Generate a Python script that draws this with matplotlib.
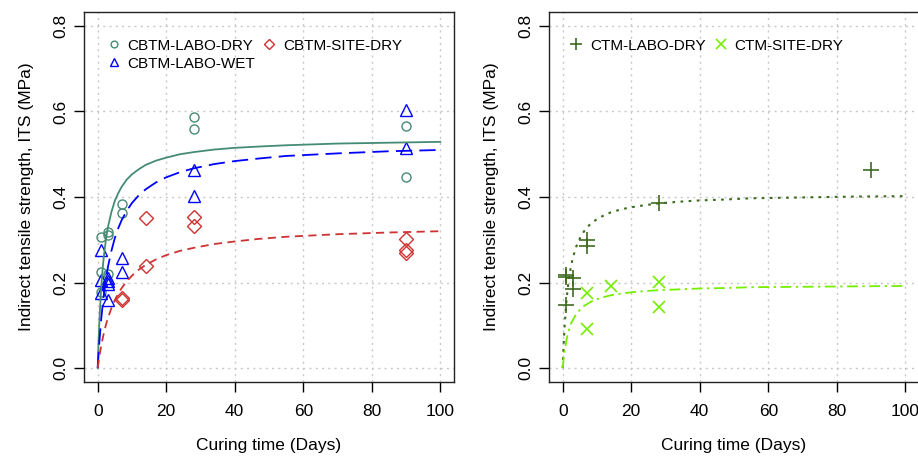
import matplotlib
matplotlib.use("Agg")
import matplotlib.pyplot as plt

plt.rcParams['font.family'] = ['Liberation Sans', 'DejaVu Sans']

# measured points (days, ITS in MPa)
cbtm_lab_dry_days = [1, 1, 1, 3, 3, 3, 7, 7, 28, 28, 90, 90]
cbtm_lab_dry_its = [0.306, 0.224, 0.178, 0.319, 0.310, 0.219, 0.384, 0.362, 0.587, 0.558, 0.566, 0.447]

cbtm_lab_wet_days = [1, 1, 1, 3, 3, 3, 3, 7, 7, 28, 28, 90, 90]
cbtm_lab_wet_its = [0.276, 0.205, 0.176, 0.210, 0.203, 0.197, 0.159, 0.258, 0.224, 0.463, 0.402, 0.603, 0.514]

cbtm_site_dry_days = [7, 7, 14, 14, 28, 28, 90, 90, 90]
cbtm_site_dry_its = [0.163, 0.159, 0.350, 0.238, 0.353, 0.332, 0.302, 0.277, 0.270]

ctm_lab_dry_days = [1, 1, 1, 3, 3, 7, 7, 28, 90]
ctm_lab_dry_its = [0.218, 0.214, 0.147, 0.210, 0.184, 0.300, 0.285, 0.385, 0.463]

ctm_site_dry_days = [7, 7, 14, 28, 28]
ctm_site_dry_its = [0.176, 0.091, 0.192, 0.202, 0.142]

# fitted curves
curve_days = [0, 0.25, 0.5, 1, 1.5, 2, 2.5, 3, 4, 5, 6, 7, 8.5, 10, 12, 14, 17, 20, 24, 28,
              34, 40, 47, 55, 70, 85, 100]
fit_cbtm_lab_dry = [0, 0.063, 0.112, 0.186, 0.238, 0.276, 0.306, 0.330, 0.365, 0.391, 0.409,
                    0.424, 0.441, 0.453, 0.465, 0.475, 0.485, 0.492, 0.500, 0.505,
                    0.511, 0.515, 0.518, 0.521, 0.525, 0.527, 0.529]
fit_cbtm_lab_wet = [0, 0.033, 0.063, 0.112, 0.152, 0.185, 0.213, 0.237, 0.274, 0.304, 0.327,
                    0.346, 0.368, 0.386, 0.404, 0.418, 0.434, 0.446, 0.458, 0.467,
                    0.477, 0.484, 0.490, 0.496, 0.502, 0.507, 0.510]
fit_cbtm_site_dry = [0, 0.014, 0.028, 0.051, 0.071, 0.089, 0.104, 0.117, 0.140, 0.159, 0.174,
                     0.187, 0.203, 0.216, 0.230, 0.241, 0.254, 0.264, 0.274, 0.281,
                     0.290, 0.296, 0.302, 0.307, 0.313, 0.317, 0.320]
fit_ctm_lab_dry = [0, 0.051, 0.091, 0.149, 0.189, 0.219, 0.241, 0.259, 0.285, 0.303, 0.317,
                   0.328, 0.340, 0.348, 0.357, 0.364, 0.371, 0.376, 0.381, 0.385,
                   0.389, 0.392, 0.394, 0.397, 0.399, 0.401, 0.402]
fit_ctm_site_dry = [0, 0.020, 0.036, 0.061, 0.080, 0.094, 0.105, 0.113, 0.127, 0.136, 0.144,
                    0.149, 0.156, 0.161, 0.166, 0.170, 0.174, 0.177, 0.180, 0.182,
                    0.184, 0.186, 0.187, 0.189, 0.190, 0.191, 0.192]

x_ticks = [0, 20, 40, 60, 80, 100]
y_ticks = [0.0, 0.2, 0.4, 0.6, 0.8]

c_teal = '#458B74'
c_blue = '#0000FF'
c_red = '#CD3333'
c_dkgreen = '#3E6B1F'
c_ltgreen = '#76EE00'

fig = plt.figure(figsize=(9.18, 4.61), dpi=100)
ax1 = fig.add_axes([84 / 918, 1 - 381.7 / 461, 370 / 918, 369.4 / 461])
ax2 = fig.add_axes([549 / 918, 1 - 381.7 / 461, 370 / 918, 369.4 / 461])


def style_axes(ax):
    ax.set_xlim(-4, 104)
    ax.set_ylim(-0.032, 0.832)
    ax.set_xticks(x_ticks)
    ax.set_yticks(y_ticks)
    ax.set_xticklabels([str(t) for t in x_ticks])
    ax.set_yticklabels(['%.1f' % t for t in y_ticks])
    ax.grid(True, color='#c8c8c8', linestyle=(0, (1.5, 3)), linewidth=1.0)
    ax.set_axisbelow(True)
    ax.tick_params(direction='out', length=7, width=1, labelsize=12.5, colors='black')
    ax.tick_params(axis='x', pad=9)
    ax.tick_params(axis='y', pad=4)
    for lab in ax.get_yticklabels():
        lab.set_rotation(90)
        lab.set_va('center')
    for sp in ax.spines.values():
        sp.set_linewidth(1.0)
        sp.set_color('#222222')
    ax.set_xlabel('Curing time (Days)', fontsize=12.5, labelpad=14)
    ax.set_ylabel('Indirect tensile strength, ITS (MPa)', fontsize=12.5, labelpad=14)


style_axes(ax1)
style_axes(ax2)

# left panel: CBTM
ax1.plot(cbtm_lab_dry_days, cbtm_lab_dry_its, 'o', mfc='none', mec=c_teal, ms=6.5, mew=1.0,
         label='CBTM-LABO-DRY')
ax1.plot(cbtm_lab_wet_days, cbtm_lab_wet_its, '^', mfc='none', mec=c_blue, ms=8.5, mew=1.0,
         label='CBTM-LABO-WET')
ax1.plot(cbtm_site_dry_days, cbtm_site_dry_its, 'D', mfc='none', mec=c_red, ms=7, mew=1.0,
         label='CBTM-SITE-DRY')
ax1.plot(curve_days, fit_cbtm_lab_dry, '-', color=c_teal, lw=1.3)
ax1.plot(curve_days, fit_cbtm_lab_wet, color=c_blue, lw=1.3, dashes=(9, 4))
ax1.plot(curve_days, fit_cbtm_site_dry, color=c_red, lw=1.3, dashes=(4.5, 3))

ax1.legend(loc='upper left', ncol=2, frameon=False, fontsize=11, handlelength=0.8,
           handletextpad=0.5, columnspacing=0.5, labelspacing=0.25,
           bbox_to_anchor=(0.048, 0.945), borderaxespad=0, markerscale=0.75)

# right panel: CTM
ax2.plot(ctm_lab_dry_days, ctm_lab_dry_its, '+', color=c_dkgreen, ms=11, mew=1.2,
         label='CTM-LABO-DRY')
ax2.plot(ctm_site_dry_days, ctm_site_dry_its, 'x', color=c_ltgreen, ms=8, mew=1.2,
         label='CTM-SITE-DRY')
ax2.plot(curve_days, fit_ctm_lab_dry, color=c_dkgreen, lw=1.5, dashes=(1.3, 2.6))
ax2.plot(curve_days, fit_ctm_site_dry, color=c_ltgreen, lw=1.3, dashes=(6, 2.5, 1.3, 2.5))

ax2.legend(loc='upper left', ncol=2, frameon=False, fontsize=11, handlelength=0.8,
           handletextpad=0.5, columnspacing=0.6, borderaxespad=0,
           bbox_to_anchor=(0.04, 0.945), markerscale=0.85)

fig.savefig('out.png', dpi=100)
